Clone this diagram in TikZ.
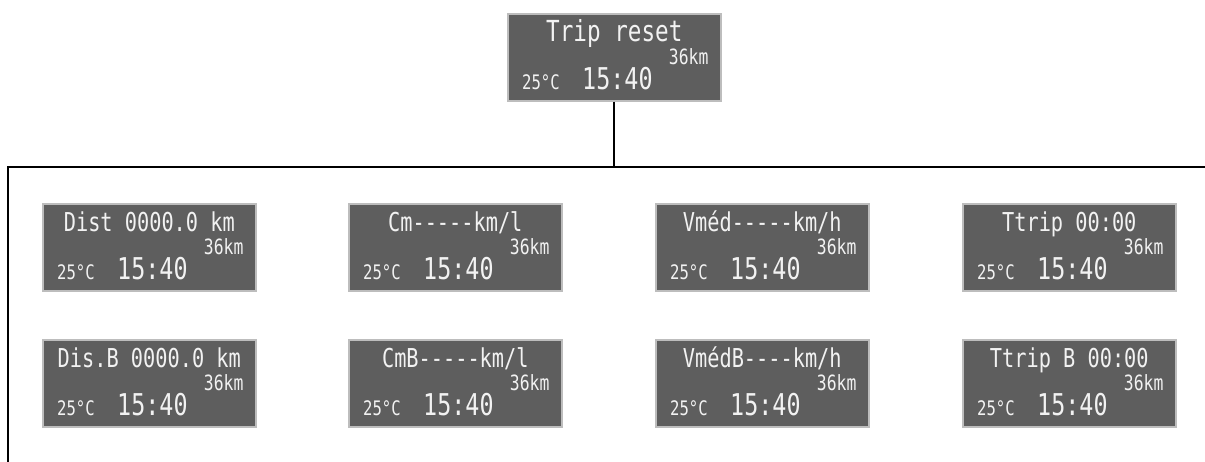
\documentclass[tikz,border=0pt]{standalone}
\usepackage{fontspec}
\newfontfamily\lcdfont[FakeStretch=0.78]{DejaVu Sans Mono}
\definecolor{lcdfill}{HTML}{5E5E5E}
\definecolor{lcdedge}{HTML}{BDBDBD}
\definecolor{lcdtext}{HTML}{F2F2F2}
\tikzset{
  lcdbox/.style={draw=lcdedge, line width=1.6pt, fill=lcdfill, minimum width=213pt, minimum height=87pt, inner sep=0pt, anchor=north west},
  lcdtxt/.style={text=lcdtext, inner sep=0pt},
  lcdtitle/.style={lcdtxt, font=\lcdfont\fontsize{26}{26}\selectfont, anchor=base},
  lcdbigtitle/.style={lcdtxt, font=\lcdfont\fontsize{29}{29}\selectfont, anchor=base},
  lcdkm/.style={lcdtxt, font=\lcdfont\fontsize{21}{21}\selectfont, anchor=base east},
  lcdtemp/.style={lcdtxt, font=\lcdfont\fontsize{20}{20}\selectfont, anchor=base west},
  lcdtime/.style={lcdtxt, font=\lcdfont\fontsize{30}{30}\selectfont, anchor=base west},
  wire/.style={draw=black, line width=2pt}
}
\newcommand\lcdpanel[5]{%
  \node[lcdbox] (#1) at (#2,#3) {};
  \node[#5] (#1-t) at ([yshift=-28pt]#1.north) {#4};
  \node[lcdkm] (#1-k) at ([shift={(-13pt,-51pt)}]#1.north east) {36km};
  \node[lcdtemp] (#1-c) at ([shift={(15pt,-76pt)}]#1.north west) {25°C};
  \node[lcdtime] (#1-h) at ([shift={(75pt,-76pt)}]#1.north west) {15:40};
}
\begin{document}
\begin{tikzpicture}[x=1pt,y=-1pt]
\useasboundingbox[fill=white] (0,0) rectangle (1205,461);
% top panel
\lcdpanel{top}{507}{13}{Trip reset}{lcdbigtitle}
% row 1
\lcdpanel{a1}{42}{203}{Dist 0000.0 km}{lcdtitle}
\lcdpanel{a2}{348}{203}{Cm-----km/l}{lcdtitle}
\lcdpanel{a3}{655}{203}{Vméd-----km/h}{lcdtitle}
\lcdpanel{a4}{962}{203}{Ttrip 00:00}{lcdtitle}
% row 2
\lcdpanel{b1}{42}{339}{Dis.B 0000.0 km}{lcdtitle}
\lcdpanel{b2}{348}{339}{CmB-----km/l}{lcdtitle}
\lcdpanel{b3}{655}{339}{VmédB----km/h}{lcdtitle}
\lcdpanel{b4}{962}{339}{Ttrip B 00:00}{lcdtitle}
% connectors
\coordinate (hl) at (8,167);
\coordinate (hr) at (1206,167);
\coordinate (bl) at (8,462);
\coordinate (j) at (top.south |- hl);
\draw[wire] (top.south) -- (j);
\draw[wire] (hr) -- (hl) -- (bl);
\end{tikzpicture}
\end{document}
